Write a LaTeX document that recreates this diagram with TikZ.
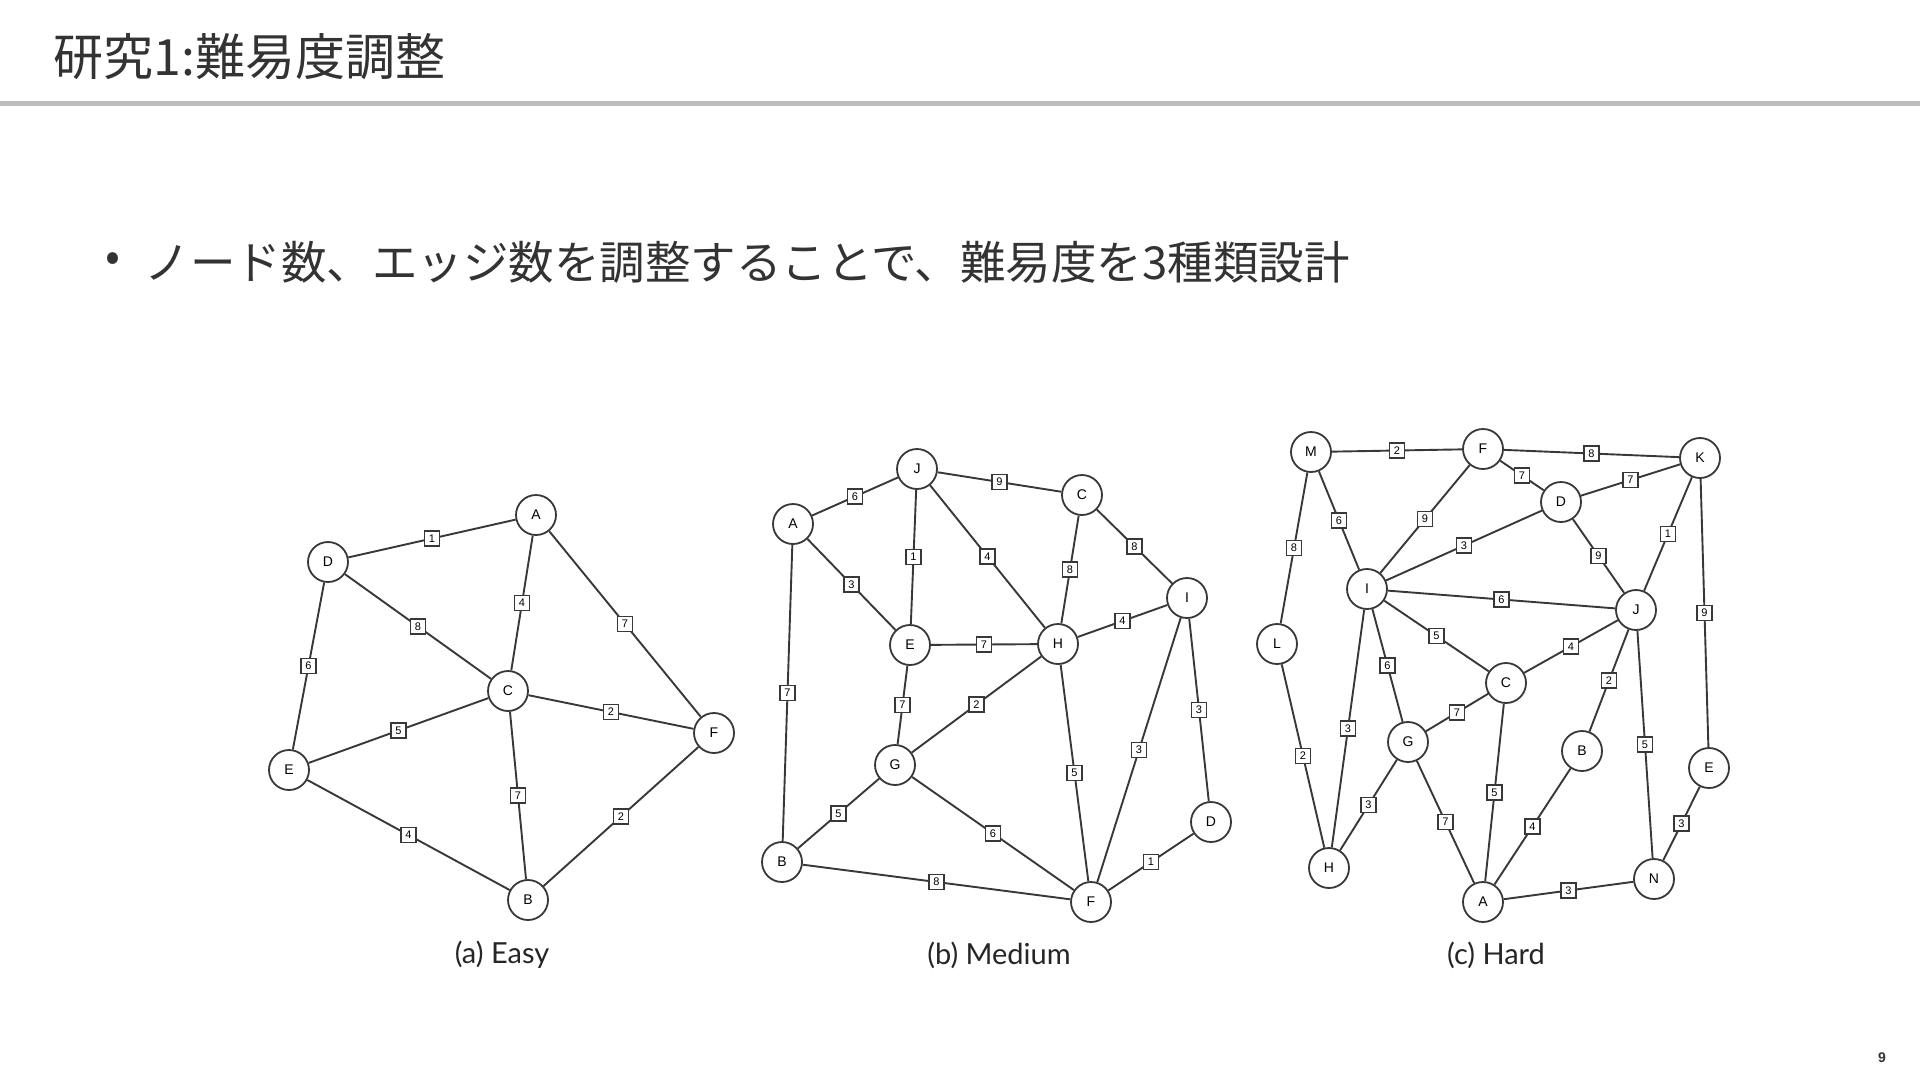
\documentclass[tikz,border=0pt]{standalone}
\usepackage{fontspec}
\setmainfont{Liberation Sans}
\newfontfamily\jpfont{Noto Sans CJK JP}
\newfontfamily\capfont{Lato}
\definecolor{ink}{HTML}{333333}
\definecolor{rulegray}{HTML}{BDBDBD}
\definecolor{edgegray}{HTML}{383838}

\begin{document}
\begin{tikzpicture}[
  x=1pt, y=-1pt,
  vtx/.style={draw=edgegray, line width=1.8pt, circle, minimum size=40pt,
    inner sep=0pt, fill=white, font=\fontsize{14}{14}\selectfont},
  wt/.style={draw=edgegray, line width=1.3pt, fill=white, minimum size=15pt,
    inner sep=0pt, midway, font=\fontsize{11}{11}\selectfont},
  link/.style={draw=edgegray, line width=1.9pt},
  subcap/.style={font=\capfont\fontsize{29}{29}\selectfont, text=black!85}
]
\useasboundingbox (0,0) rectangle (1920,1080);
\fill[white] (0,0) rectangle (1920,1080);

% Header
\node[anchor=west, text=ink, font=\jpfont\fontsize{50}{50}\selectfont]
  (title) at (50,57) {研究1:難易度調整};
\draw[rulegray, line width=5pt] (0,103) -- (1920,103);
\node[text=ink, font=\jpfont\fontsize{44}{44}\selectfont] (dot) at (113,262) {•};
\node[anchor=west, text=ink, font=\jpfont\fontsize{45.5}{45.5}\selectfont]
  (bullet) at (141,262) {ノード数、エッジ数を調整することで、難易度を3種類設計};
\node[text=ink, font=\bfseries\fontsize{14}{14}\selectfont] (pageno) at (1882,1058) {9};

% (a) Easy
\node[vtx] (eA) at (536,515) {A};
\node[vtx] (eD) at (328,562) {D};
\node[vtx] (eC) at (508,691) {C};
\node[vtx] (eF) at (714,733) {F};
\node[vtx] (eE) at (289,770) {E};
\node[vtx] (eB) at (528,900) {B};
\draw[link] (eD) -- node[wt] {1} (eA);
\draw[link] (eA) -- node[wt] {4} (eC);
\draw[link] (eA) -- node[wt] {7} (eF);
\draw[link] (eD) -- node[wt] {8} (eC);
\draw[link] (eD) -- node[wt] {6} (eE);
\draw[link] (eC) -- node[wt] {5} (eE);
\draw[link] (eC) -- node[wt] {2} (eF);
\draw[link] (eC) -- node[wt] {7} (eB);
\draw[link] (eE) -- node[wt] {4} (eB);
\draw[link] (eB) -- node[wt] {2} (eF);
\node[subcap] (capA) at (502,955) {(a) Easy};

% (b) Medium
\node[vtx] (mJ) at (917,469) {J};
\node[vtx] (mC) at (1082,495) {C};
\node[vtx] (mA) at (793,524) {A};
\node[vtx] (mI) at (1187,598) {I};
\node[vtx] (mE) at (910,645) {E};
\node[vtx] (mH) at (1058,644) {H};
\node[vtx] (mG) at (895,765) {G};
\node[vtx] (mD) at (1211,822) {D};
\node[vtx] (mB) at (782,862) {B};
\node[vtx] (mF) at (1091,902) {F};
\draw[link] (mA) -- node[wt] {6} (mJ);
\draw[link] (mJ) -- node[wt] {9} (mC);
\draw[link] (mJ) -- node[wt] {1} (mE);
\draw[link] (mJ) -- node[wt] {4} (mH);
\draw[link] (mC) -- node[wt] {8} (mH);
\draw[link] (mC) -- node[wt] {8} (mI);
\draw[link] (mA) -- node[wt] {3} (mE);
\draw[link] (mA) -- node[wt] {7} (mB);
\draw[link] (mI) -- node[wt] {4} (mH);
\draw[link] (mE) -- node[wt] {7} (mH);
\draw[link] (mE) -- node[wt] {7} (mG);
\draw[link] (mH) -- node[wt] {2} (mG);
\draw[link] (mH) -- node[wt] {5} (mF);
\draw[link] (mI) -- node[wt] {3} (mF);
\draw[link] (mI) -- node[wt] {3} (mD);
\draw[link] (mG) -- node[wt] {5} (mB);
\draw[link] (mG) -- node[wt] {6} (mF);
\draw[link] (mB) -- node[wt] {8} (mF);
\draw[link] (mF) -- node[wt] {1} (mD);
\node[subcap] (capB) at (999,955) {(b) Medium};

% (c) Hard
\node[vtx] (hM) at (1311,452) {M};
\node[vtx] (hF) at (1483,449) {F};
\node[vtx] (hK) at (1700,458) {K};
\node[vtx] (hD) at (1561,502) {D};
\node[vtx] (hI) at (1367,589) {I};
\node[vtx] (hJ) at (1636,610) {J};
\node[vtx] (hL) at (1277,644) {L};
\node[vtx] (hC) at (1506,683) {C};
\node[vtx] (hG) at (1408,742) {G};
\node[vtx] (hB) at (1582,751) {B};
\node[vtx] (hE) at (1709,768) {E};
\node[vtx] (hH) at (1329,868) {H};
\node[vtx] (hN) at (1654,879) {N};
\node[vtx] (hA) at (1483,902) {A};
\draw[link] (hM) -- node[wt] {2} (hF);
\draw[link] (hF) -- node[wt] {8} (hK);
\draw[link] (hF) -- node[wt] {7} (hD);
\draw[link] (hD) -- node[wt] {7} (hK);
\draw[link] (hM) -- node[wt] {6} (hI);
\draw[link] (hM) -- node[wt] {8} (hL);
\draw[link] (hF) -- node[wt] {9} (hI);
\draw[link] (hD) -- node[wt] {3} (hI);
\draw[link] (hD) -- node[wt] {9} (hJ);
\draw[link] (hK) -- node[wt] {1} (hJ);
\draw[link] (hK) -- node[wt] {9} (hE);
\draw[link] (hI) -- node[wt] {6} (hJ);
\draw[link] (hI) -- node[wt] {5} (hC);
\draw[link] (hI) -- node[wt] {6} (hG);
\draw[link] (hI) -- node[wt] {3} (hH);
\draw[link] (hL) -- node[wt] {2} (hH);
\draw[link] (hC) -- node[wt] {4} (hJ);
\draw[link] (hC) -- node[wt] {7} (hG);
\draw[link] (hC) -- node[wt] {5} (hA);
\draw[link] (hJ) -- node[wt] {2} (hB);
\draw[link] (hJ) -- node[wt] {5} (hN);
\draw[link] (hG) -- node[wt] {3} (hH);
\draw[link] (hG) -- node[wt] {7} (hA);
\draw[link] (hB) -- node[wt] {4} (hA);
\draw[link] (hA) -- node[wt] {3} (hN);
\draw[link] (hN) -- node[wt] {3} (hE);
\node[subcap] (capC) at (1496,955) {(c) Hard};

\end{tikzpicture}
\end{document}
